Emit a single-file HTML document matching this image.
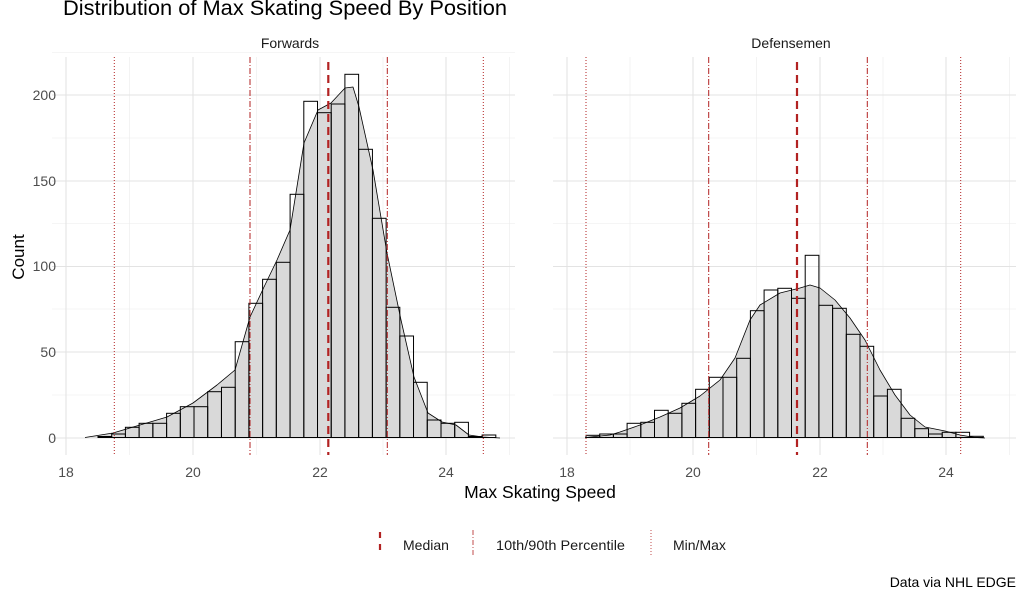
<!DOCTYPE html>
<html><head><meta charset="utf-8"><style>
html,body{margin:0;padding:0;background:#fff;}
svg{display:block;font-family:"Liberation Sans",Arial,sans-serif;}
</style></head><body>
<svg width="1027" height="600" viewBox="0 0 1027 600" xmlns="http://www.w3.org/2000/svg">
<rect width="1027" height="600" fill="#fff"/>
<text x="63" y="15" font-size="21.5" fill="#000" textLength="444" lengthAdjust="spacingAndGlyphs">Distribution of Max Skating Speed By Position</text>
<text x="290" y="48" font-size="14" fill="#1a1a1a" text-anchor="middle">Forwards</text>
<text x="791" y="48" font-size="14" fill="#1a1a1a" text-anchor="middle">Defensemen</text>

<g stroke="#ebebeb" stroke-width="0.6">
<line x1="52" x2="515" y1="52.5" y2="52.5"/><line x1="52" x2="515" y1="138" y2="138"/><line x1="52" x2="515" y1="223.5" y2="223.5"/><line x1="52" x2="515" y1="309" y2="309"/><line x1="52" x2="515" y1="395" y2="395"/>
<line x1="129.5" x2="129.5" y1="57" y2="455"/><line x1="256.5" x2="256.5" y1="57" y2="455"/><line x1="383" x2="383" y1="57" y2="455"/><line x1="509.5" x2="509.5" y1="57" y2="455"/>
<line x1="553" x2="1016" y1="138" y2="138"/><line x1="553" x2="1016" y1="223.5" y2="223.5"/><line x1="553" x2="1016" y1="309" y2="309"/><line x1="553" x2="1016" y1="395" y2="395"/>
<line x1="630" x2="630" y1="57" y2="455"/><line x1="756.5" x2="756.5" y1="57" y2="455"/><line x1="883" x2="883" y1="57" y2="455"/><line x1="1009.5" x2="1009.5" y1="57" y2="455"/>
</g>
<g stroke="#e3e3e3" stroke-width="1.1">
<line x1="52" x2="515" y1="95" y2="95"/><line x1="52" x2="515" y1="181" y2="181"/><line x1="52" x2="515" y1="266.5" y2="266.5"/><line x1="52" x2="515" y1="352" y2="352"/><line x1="52" x2="515" y1="438" y2="438"/>
<line x1="66" x2="66" y1="57" y2="455"/><line x1="193" x2="193" y1="57" y2="455"/><line x1="320" x2="320" y1="57" y2="455"/><line x1="446" x2="446" y1="57" y2="455"/>
<line x1="553" x2="1016" y1="95" y2="95"/><line x1="553" x2="1016" y1="181" y2="181"/><line x1="553" x2="1016" y1="266.5" y2="266.5"/><line x1="553" x2="1016" y1="352" y2="352"/><line x1="553" x2="1016" y1="438" y2="438"/>
<line x1="567" x2="567" y1="57" y2="455"/><line x1="693" x2="693" y1="57" y2="455"/><line x1="820" x2="820" y1="57" y2="455"/><line x1="946" x2="946" y1="57" y2="455"/>
</g>

<polygon fill="#d9d9d9" points="85,437.5 113,433 140,425 167,417 193,403 217,385 235,370 250,317 264,287 277,260 290,230 304,143 318,110 331,103 345,88 353,87 359,107 373,170 387,253 401,320 414,377 428,413 442,422 456,425 469,435 483,437 500,438"/>
<polygon fill="#d9d9d9" points="585,437.5 610,435 620,432 640,425 660,417 680,408 700,396 720,380 735,358 750,320 760,305 780,293 800,288 810,285 820,288 835,300 850,318 865,340 880,370 895,395 910,415 925,427 945,431 960,435 975,437.5 985,438"/>

<g fill="none" stroke="#000" stroke-width="1">
<rect x="98" y="436.5" width="13.7" height="1"/>
<rect x="111.7" y="434" width="13.72" height="3.5"/>
<rect x="125.4" y="427.3" width="13.72" height="10.2"/>
<rect x="139.1" y="423.3" width="13.72" height="14.2"/>
<rect x="152.9" y="423.3" width="13.72" height="14.2"/>
<rect x="166.6" y="413.3" width="13.72" height="24.2"/>
<rect x="180.3" y="406.7" width="13.72" height="30.8"/>
<rect x="194.0" y="406.7" width="13.72" height="30.8"/>
<rect x="207.7" y="391.7" width="13.72" height="45.8"/>
<rect x="221.5" y="387.3" width="13.72" height="50.2"/>
<rect x="235.2" y="341.7" width="13.72" height="95.8"/>
<rect x="248.9" y="303.3" width="13.72" height="134.2"/>
<rect x="262.6" y="279.3" width="13.72" height="158.2"/>
<rect x="276.3" y="262.3" width="13.72" height="175.2"/>
<rect x="290.1" y="194.3" width="13.72" height="243.2"/>
<rect x="303.8" y="101.3" width="13.72" height="336.2"/>
<rect x="317.5" y="112.7" width="13.72" height="324.8"/>
<rect x="331.2" y="104" width="13.72" height="333.5"/>
<rect x="344.9" y="74.3" width="13.72" height="363.2"/>
<rect x="358.7" y="149.3" width="13.72" height="288.2"/>
<rect x="372.4" y="218.3" width="13.72" height="219.2"/>
<rect x="386.1" y="307.3" width="13.72" height="130.2"/>
<rect x="399.8" y="336" width="13.72" height="101.5"/>
<rect x="413.5" y="382.3" width="13.72" height="55.2"/>
<rect x="427.3" y="420" width="13.72" height="17.5"/>
<rect x="441.0" y="423.3" width="13.72" height="14.2"/>
<rect x="454.7" y="422.3" width="13.72" height="15.2"/>
<rect x="468.4" y="436.5" width="13.72" height="1"/>
<rect x="482.1" y="435" width="13.72" height="2.5"/>
</g>
<g fill="none" stroke="#000" stroke-width="1">
<rect x="586" y="435.3" width="13.7" height="2.2"/>
<rect x="599.7" y="434" width="13.7" height="3.5"/>
<rect x="613.4" y="434" width="13.7" height="3.5"/>
<rect x="627.1" y="423.3" width="13.7" height="14.2"/>
<rect x="640.8" y="422.3" width="13.7" height="15.2"/>
<rect x="654.5" y="410.3" width="13.7" height="27.2"/>
<rect x="668.2" y="413.3" width="13.7" height="24.2"/>
<rect x="681.9" y="403.3" width="13.7" height="34.2"/>
<rect x="695.6" y="389.3" width="13.7" height="48.2"/>
<rect x="709.3" y="377.3" width="13.7" height="60.2"/>
<rect x="723.0" y="377.3" width="13.7" height="60.2"/>
<rect x="736.7" y="358.3" width="13.7" height="79.2"/>
<rect x="750.4" y="310.7" width="13.7" height="126.8"/>
<rect x="764.1" y="290" width="13.7" height="147.5"/>
<rect x="777.8" y="288.3" width="13.7" height="149.2"/>
<rect x="791.5" y="298.3" width="13.7" height="139.2"/>
<rect x="805.2" y="255.3" width="13.7" height="182.2"/>
<rect x="818.9" y="305.3" width="13.7" height="132.2"/>
<rect x="832.6" y="308.3" width="13.7" height="129.2"/>
<rect x="846.3" y="334.3" width="13.7" height="103.2"/>
<rect x="860.0" y="346.3" width="13.7" height="91.2"/>
<rect x="873.7" y="396" width="13.7" height="41.5"/>
<rect x="887.4" y="389.3" width="13.7" height="48.2"/>
<rect x="901.1" y="418.3" width="13.7" height="19.2"/>
<rect x="914.8" y="428.7" width="13.7" height="8.8"/>
<rect x="928.5" y="434" width="13.7" height="3.5"/>
<rect x="942.2" y="432.3" width="13.7" height="5.2"/>
<rect x="955.9" y="432.3" width="13.7" height="5.2"/>
<rect x="969.6" y="436.3" width="13.7" height="1.2"/>
</g>
<polyline fill="none" stroke="#000" stroke-width="0.8" stroke-linejoin="round" points="85,437.5 113,433 140,425 167,417 193,403 217,385 235,370 250,317 264,287 277,260 290,230 304,143 318,110 331,103 345,88 353,87 359,107 373,170 387,253 401,320 414,377 428,413 442,422 456,425 469,435 483,437 500,438"/>
<polyline fill="none" stroke="#000" stroke-width="0.8" stroke-linejoin="round" points="585,437.5 610,435 620,432 640,425 660,417 680,408 700,396 720,380 735,358 750,320 760,305 780,293 800,288 810,285 820,288 835,300 850,318 865,340 880,370 895,395 910,415 925,427 945,431 960,435 975,437.5 985,438"/>

<g stroke="#b22222" fill="none">
<line x1="114.3" x2="114.3" y1="57" y2="455" stroke-width="1" stroke-dasharray="1,2"/>
<line x1="483.3" x2="483.3" y1="57" y2="455" stroke-width="1" stroke-dasharray="1,2"/>
<line x1="250" x2="250" y1="57" y2="455" stroke-width="1" stroke-dasharray="6,2,1,2"/>
<line x1="387.3" x2="387.3" y1="57" y2="455" stroke-width="1" stroke-dasharray="6,2,1,2"/>
<line x1="328.3" x2="328.3" y1="62" y2="455" stroke-width="2.2" stroke-dasharray="8,5"/>
<line x1="586" x2="586" y1="57" y2="455" stroke-width="1" stroke-dasharray="1,2"/>
<line x1="960.7" x2="960.7" y1="57" y2="455" stroke-width="1" stroke-dasharray="1,2"/>
<line x1="708.7" x2="708.7" y1="57" y2="455" stroke-width="1" stroke-dasharray="6,2,1,2"/>
<line x1="867.3" x2="867.3" y1="57" y2="455" stroke-width="1" stroke-dasharray="6,2,1,2"/>
<line x1="797" x2="797" y1="62" y2="455" stroke-width="2.2" stroke-dasharray="8,5"/>
</g>

<g font-size="14" fill="#4d4d4d" text-anchor="end">
<text x="56" y="100">200</text><text x="56" y="186">150</text><text x="56" y="271">100</text><text x="56" y="357">50</text><text x="56" y="443">0</text>
</g>
<g font-size="14" fill="#4d4d4d" text-anchor="middle">
<text x="66" y="477">18</text><text x="193" y="477">20</text><text x="320" y="477">22</text><text x="446" y="477">24</text>
<text x="567" y="477">18</text><text x="693" y="477">20</text><text x="820" y="477">22</text><text x="946" y="477">24</text>
</g>
<text x="540" y="498" font-size="17.5" fill="#000" text-anchor="middle">Max Skating Speed</text>
<text transform="translate(24,257) rotate(-90)" font-size="17" fill="#000" text-anchor="middle">Count</text>

<line x1="380" x2="380" y1="532" y2="556" stroke="#b22222" stroke-width="2.2" stroke-dasharray="6,6"/>
<text x="403" y="550" font-size="14" fill="#1a1a1a">Median</text>
<line x1="473" x2="473" y1="530" y2="556" stroke="#b22222" stroke-width="0.8" stroke-dasharray="5,2,1,2"/>
<text x="496" y="550" font-size="14" fill="#1a1a1a" textLength="129" lengthAdjust="spacingAndGlyphs">10th/90th Percentile</text>
<line x1="651" x2="651" y1="530" y2="556" stroke="#b22222" stroke-width="0.8" stroke-dasharray="1,2"/>
<text x="673" y="550" font-size="14" fill="#1a1a1a">Min/Max</text>
<text x="1016" y="587" font-size="14" fill="#000" text-anchor="end">Data via NHL EDGE</text>
</svg>
</body></html>
